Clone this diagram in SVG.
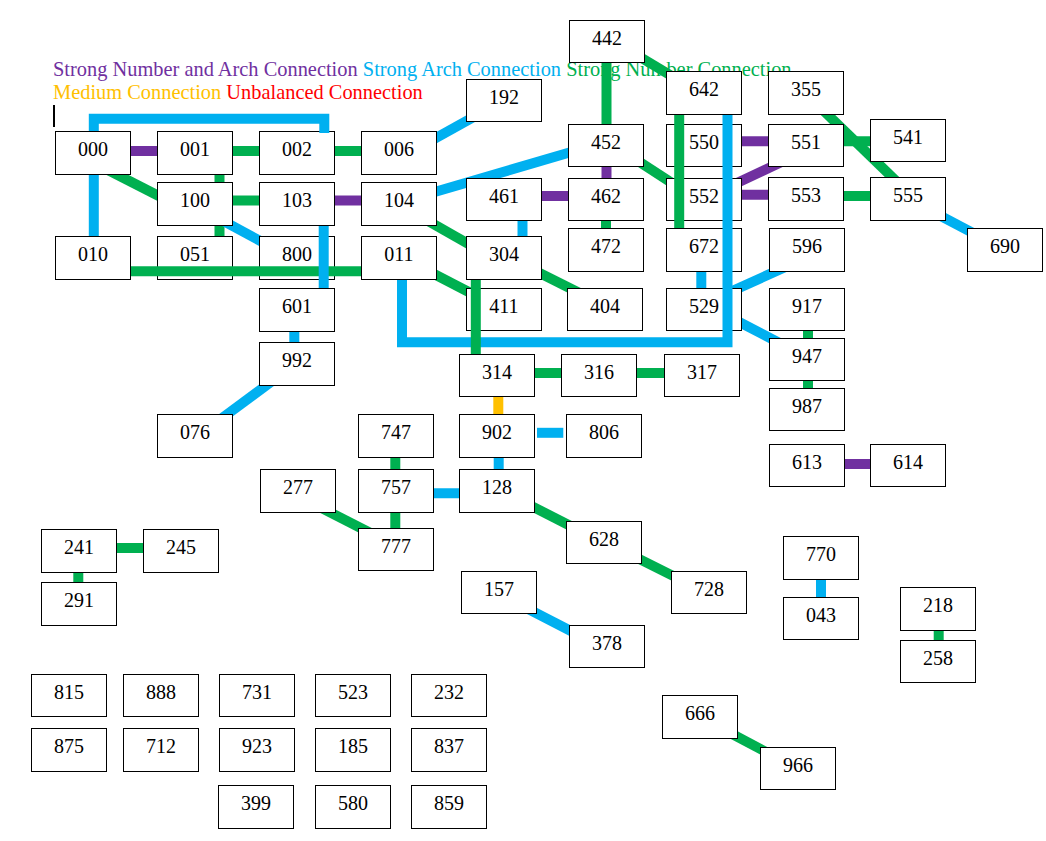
<svg xmlns="http://www.w3.org/2000/svg" width="1046" height="841" viewBox="0 0 1046 841">
<style>
.node rect{fill:#fff;stroke:#000;stroke-width:1}
.node text{font-family:"Liberation Serif","Times New Roman",serif;font-size:20px;fill:#000;text-anchor:middle}
.legend{font-family:"Liberation Serif","Times New Roman",serif;font-size:20.4px}
.c{fill:none;stroke-width:10;stroke-linejoin:miter;stroke-linecap:butt}
.p{stroke:#7030A0}.b{stroke:#00B0F0}.g{stroke:#00B050}.o{stroke:#FFC000}
</style>
<rect width="1046" height="841" fill="#fff"/>
<g id="legend">
<text class="legend" x="53" y="76"><tspan fill="#7030A0">Strong Number and Arch Connection</tspan> <tspan fill="#00B0F0">Strong Arch Connection</tspan> <tspan fill="#00B050">Strong Number Connection</tspan></text>
<text class="legend" x="53" y="99"><tspan fill="#FFC000">Medium Connection</tspan> <tspan fill="#FF0000">Unbalanced Connection</tspan></text>
<rect x="53" y="105" width="2" height="22" fill="#000"/>
</g>
<g id="connectors">
<line class="c p" x1="93" y1="151" x2="194" y2="151"/>
<line class="c g" x1="194" y1="151" x2="297" y2="151"/>
<line class="c g" x1="297" y1="151" x2="399" y2="151"/>
<line class="c b" x1="410" y1="152.4" x2="504" y2="100.1"/>
<line class="c b" x1="93.8" y1="152" x2="93.8" y2="258"/>
<line class="c g" x1="100" y1="166" x2="175" y2="204.2"/>
<line class="c g" x1="219.5" y1="152" x2="219.5" y2="258"/>
<line class="c g" x1="194" y1="200.5" x2="297" y2="200.5"/>
<line class="c p" x1="297" y1="200.5" x2="399" y2="200.5"/>
<line class="c b" x1="200" y1="208.4" x2="290" y2="257"/>
<line class="c b" x1="420" y1="196.3" x2="590" y2="146.5"/>
<line class="c g" x1="420" y1="216.3" x2="500" y2="261.9"/>
<line class="c g" x1="420" y1="266.7" x2="490" y2="303"/>
<line class="c g" x1="510" y1="258.2" x2="590" y2="298.2"/>
<line class="c b" x1="522.5" y1="200" x2="522.5" y2="258"/>
<line class="c p" x1="504" y1="196" x2="606" y2="196"/>
<line class="c p" x1="606.5" y1="145" x2="606.5" y2="200"/>
<line class="c g" x1="606" y1="200" x2="606" y2="250"/>
<line class="c g" x1="606.5" y1="41" x2="606.5" y2="145"/>
<line class="c g" x1="620" y1="45" x2="700" y2="93"/>
<line class="c g" x1="615" y1="146" x2="700" y2="201.3"/>
<line class="c p" x1="704" y1="141.3" x2="806" y2="141.3"/>
<line class="c p" x1="720" y1="191" x2="800" y2="153.3"/>
<line class="c p" x1="704" y1="194.7" x2="806" y2="194.7"/>
<line class="c g" x1="806" y1="141.3" x2="907" y2="141.3"/>
<line class="c g" x1="815" y1="102.4" x2="905" y2="189.6"/>
<line class="c g" x1="806" y1="196" x2="907" y2="196"/>
<line class="c b" x1="907.5" y1="198.5" x2="1005" y2="249.8"/>
<line class="c b" x1="701.3" y1="250" x2="701.3" y2="310"/>
<line class="c b" x1="700" y1="305.5" x2="810" y2="256"/>
<line class="c b" x1="704" y1="303.8" x2="806" y2="356.8"/>
<line class="c g" x1="808" y1="310" x2="808" y2="360"/>
<line class="c g" x1="808" y1="360" x2="808" y2="410"/>
<line class="c p" x1="806" y1="464" x2="907" y2="464"/>
<line class="c g" x1="497" y1="373" x2="599" y2="373"/>
<line class="c g" x1="599" y1="373" x2="701" y2="373"/>
<line class="c o" x1="498.3" y1="375" x2="498.3" y2="435"/>
<line class="c b" x1="537" y1="432.8" x2="563.3" y2="432.8"/>
<line class="c b" x1="498.7" y1="435" x2="498.7" y2="490"/>
<line class="c b" x1="396" y1="493.3" x2="497" y2="493.3"/>
<line class="c g" x1="395.3" y1="435" x2="395.3" y2="490"/>
<line class="c g" x1="395.3" y1="490" x2="395.3" y2="549"/>
<line class="c g" x1="300" y1="497" x2="395" y2="545.5"/>
<line class="c g" x1="500" y1="490" x2="600" y2="541"/>
<line class="c g" x1="620" y1="549.4" x2="700" y2="589.4"/>
<line class="c b" x1="500" y1="594.4" x2="600" y2="646"/>
<line class="c g" x1="79" y1="548" x2="181" y2="548"/>
<line class="c g" x1="78.3" y1="550" x2="78.3" y2="604"/>
<line class="c b" x1="821" y1="558" x2="821" y2="618"/>
<line class="c g" x1="938.7" y1="608" x2="938.7" y2="661"/>
<line class="c g" x1="700" y1="717" x2="798" y2="769"/>
<line class="c b" x1="294.3" y1="310" x2="294.3" y2="364"/>
<line class="c b" x1="280" y1="375.3" x2="210" y2="427"/>
</g>
<g id="n000" class="node"><rect x="55.5" y="131.5" width="75" height="43"/><text x="93" y="156">000</text></g>
<g id="n001" class="node"><rect x="157.5" y="131.5" width="75" height="43"/><text x="195" y="156">001</text></g>
<g id="n002" class="node"><rect x="259.5" y="131.5" width="75" height="43"/><text x="297" y="156">002</text></g>
<g id="n006" class="node"><rect x="361.5" y="131.5" width="75" height="43"/><text x="399" y="156">006</text></g>
<g id="n100" class="node"><rect x="157.5" y="182.5" width="75" height="43"/><text x="195" y="207">100</text></g>
<g id="n103" class="node"><rect x="259.5" y="182.5" width="75" height="43"/><text x="297" y="207">103</text></g>
<g id="n104" class="node"><rect x="361.5" y="182.5" width="75" height="43"/><text x="399" y="207">104</text></g>
<g id="n010" class="node"><rect x="55.5" y="236.5" width="75" height="43"/><text x="93" y="261">010</text></g>
<g id="n051" class="node"><rect x="157.5" y="236.5" width="75" height="43"/><text x="195" y="261">051</text></g>
<g id="n800" class="node"><rect x="259.5" y="236.5" width="75" height="43"/><text x="297" y="261">800</text></g>
<g id="n011" class="node"><rect x="361.5" y="236.5" width="75" height="43"/><text x="399" y="261">011</text></g>
<g id="n601" class="node"><rect x="259.5" y="288.5" width="75" height="43"/><text x="297" y="313">601</text></g>
<g id="n992" class="node"><rect x="259.5" y="342.5" width="75" height="43"/><text x="297" y="367">992</text></g>
<g id="n076" class="node"><rect x="157.5" y="414.5" width="75" height="43"/><text x="195" y="439">076</text></g>
<g id="n442" class="node"><rect x="569.5" y="20.5" width="75" height="42"/><text x="607" y="45">442</text></g>
<g id="n192" class="node"><rect x="466.5" y="79.5" width="75" height="42"/><text x="504" y="104">192</text></g>
<g id="n642" class="node"><rect x="666.5" y="71.5" width="75" height="43"/><text x="704" y="96">642</text></g>
<g id="n355" class="node"><rect x="768.5" y="71.5" width="75" height="43"/><text x="806" y="96">355</text></g>
<g id="n452" class="node"><rect x="568.5" y="124.5" width="75" height="42"/><text x="606" y="149">452</text></g>
<g id="n550" class="node"><rect x="666.5" y="124.5" width="75" height="42"/><text x="704" y="149">550</text></g>
<g id="n551" class="node"><rect x="768.5" y="124.5" width="75" height="42"/><text x="806" y="149">551</text></g>
<g id="n541" class="node"><rect x="870.5" y="119.5" width="75" height="42"/><text x="908" y="144">541</text></g>
<g id="n461" class="node"><rect x="466.5" y="178.5" width="75" height="42"/><text x="504" y="203">461</text></g>
<g id="n462" class="node"><rect x="568.5" y="178.5" width="75" height="42"/><text x="606" y="203">462</text></g>
<g id="n552" class="node"><rect x="666.5" y="178.5" width="75" height="42"/><text x="704" y="203">552</text></g>
<g id="n553" class="node"><rect x="768.5" y="177.5" width="75" height="43"/><text x="806" y="202">553</text></g>
<g id="n555" class="node"><rect x="870.5" y="177.5" width="75" height="43"/><text x="908" y="202">555</text></g>
<g id="n472" class="node"><rect x="568.5" y="228.5" width="75" height="43"/><text x="606" y="253">472</text></g>
<g id="n672" class="node"><rect x="666.5" y="228.5" width="75" height="43"/><text x="704" y="253">672</text></g>
<g id="n596" class="node"><rect x="769.5" y="228.5" width="75" height="43"/><text x="807" y="253">596</text></g>
<g id="n690" class="node"><rect x="967.5" y="228.5" width="75" height="43"/><text x="1005" y="253">690</text></g>
<g id="n304" class="node"><rect x="466.5" y="236.5" width="75" height="43"/><text x="504" y="261">304</text></g>
<g id="n411" class="node"><rect x="466.5" y="288.5" width="75" height="42"/><text x="504" y="313">411</text></g>
<g id="n404" class="node"><rect x="567.5" y="288.5" width="75" height="42"/><text x="605" y="313">404</text></g>
<g id="n529" class="node"><rect x="666.5" y="288.5" width="75" height="42"/><text x="704" y="313">529</text></g>
<g id="n917" class="node"><rect x="769.5" y="288.5" width="75" height="42"/><text x="807" y="313">917</text></g>
<g id="n947" class="node"><rect x="769.5" y="338.5" width="75" height="42"/><text x="807" y="363">947</text></g>
<g id="n987" class="node"><rect x="769.5" y="388.5" width="75" height="42"/><text x="807" y="413">987</text></g>
<g id="n613" class="node"><rect x="769.5" y="444.5" width="75" height="42"/><text x="807" y="469">613</text></g>
<g id="n614" class="node"><rect x="870.5" y="444.5" width="75" height="42"/><text x="908" y="469">614</text></g>
<g id="n314" class="node"><rect x="459.5" y="354.5" width="75" height="42"/><text x="497" y="379">314</text></g>
<g id="n316" class="node"><rect x="561.5" y="354.5" width="75" height="42"/><text x="599" y="379">316</text></g>
<g id="n317" class="node"><rect x="664.5" y="354.5" width="75" height="42"/><text x="702" y="379">317</text></g>
<g id="n747" class="node"><rect x="358.5" y="414.5" width="75" height="43"/><text x="396" y="439">747</text></g>
<g id="n902" class="node"><rect x="459.5" y="414.5" width="75" height="43"/><text x="497" y="439">902</text></g>
<g id="n806" class="node"><rect x="566.5" y="414.5" width="75" height="43"/><text x="604" y="439">806</text></g>
<g id="n277" class="node"><rect x="260.5" y="469.5" width="75" height="43"/><text x="298" y="494">277</text></g>
<g id="n757" class="node"><rect x="358.5" y="469.5" width="75" height="43"/><text x="396" y="494">757</text></g>
<g id="n128" class="node"><rect x="459.5" y="469.5" width="75" height="43"/><text x="497" y="494">128</text></g>
<g id="n777" class="node"><rect x="358.5" y="528.5" width="75" height="42"/><text x="396" y="553">777</text></g>
<g id="n628" class="node"><rect x="566.5" y="521.5" width="75" height="42"/><text x="604" y="546">628</text></g>
<g id="n728" class="node"><rect x="671.5" y="571.5" width="75" height="42"/><text x="709" y="596">728</text></g>
<g id="n157" class="node"><rect x="461.5" y="571.5" width="75" height="42"/><text x="499" y="596">157</text></g>
<g id="n378" class="node"><rect x="569.5" y="625.5" width="75" height="42"/><text x="607" y="650">378</text></g>
<g id="n241" class="node"><rect x="41.5" y="529.5" width="75" height="43"/><text x="79" y="554">241</text></g>
<g id="n245" class="node"><rect x="143.5" y="529.5" width="75" height="43"/><text x="181" y="554">245</text></g>
<g id="n291" class="node"><rect x="41.5" y="582.5" width="75" height="43"/><text x="79" y="607">291</text></g>
<g id="n770" class="node"><rect x="783.5" y="536.5" width="75" height="43"/><text x="821" y="561">770</text></g>
<g id="n043" class="node"><rect x="783.5" y="597.5" width="75" height="42"/><text x="821" y="622">043</text></g>
<g id="n218" class="node"><rect x="900.5" y="587.5" width="75" height="43"/><text x="938" y="612">218</text></g>
<g id="n258" class="node"><rect x="900.5" y="640.5" width="75" height="42"/><text x="938" y="665">258</text></g>
<g id="n666" class="node"><rect x="662.5" y="695.5" width="75" height="43"/><text x="700" y="720">666</text></g>
<g id="n966" class="node"><rect x="760.5" y="747.5" width="75" height="42"/><text x="798" y="772">966</text></g>
<g id="n815" class="node"><rect x="31.5" y="674.5" width="75" height="42"/><text x="69" y="699">815</text></g>
<g id="n888" class="node"><rect x="123.5" y="674.5" width="75" height="42"/><text x="161" y="699">888</text></g>
<g id="n731" class="node"><rect x="219.5" y="674.5" width="75" height="42"/><text x="257" y="699">731</text></g>
<g id="n523" class="node"><rect x="315.5" y="674.5" width="75" height="42"/><text x="353" y="699">523</text></g>
<g id="n232" class="node"><rect x="411.5" y="674.5" width="75" height="42"/><text x="449" y="699">232</text></g>
<g id="n875" class="node"><rect x="31.5" y="728.5" width="75" height="43"/><text x="69" y="753">875</text></g>
<g id="n712" class="node"><rect x="123.5" y="728.5" width="75" height="43"/><text x="161" y="753">712</text></g>
<g id="n923" class="node"><rect x="219.5" y="728.5" width="75" height="43"/><text x="257" y="753">923</text></g>
<g id="n185" class="node"><rect x="315.5" y="728.5" width="75" height="43"/><text x="353" y="753">185</text></g>
<g id="n837" class="node"><rect x="411.5" y="728.5" width="75" height="43"/><text x="449" y="753">837</text></g>
<g id="n399" class="node"><rect x="218.5" y="785.5" width="75" height="43"/><text x="256" y="810">399</text></g>
<g id="n580" class="node"><rect x="315.5" y="785.5" width="75" height="43"/><text x="353" y="810">580</text></g>
<g id="n859" class="node"><rect x="411.5" y="785.5" width="75" height="43"/><text x="449" y="810">859</text></g>
<g id="connectors-over">
<path class="c b" d="M93.8,131 V118.8 H324.3 V133"/>
<path class="c g" d="M131,271.3 H361"/>
<path class="c b" d="M323.7,226 V288"/>
<path class="c b" d="M402,280 V342.3 H727.5 V115"/>
<path class="c g" d="M475.8,280 V354"/>
<path class="c g" d="M679.2,115 V228"/>
</g>
</svg>
